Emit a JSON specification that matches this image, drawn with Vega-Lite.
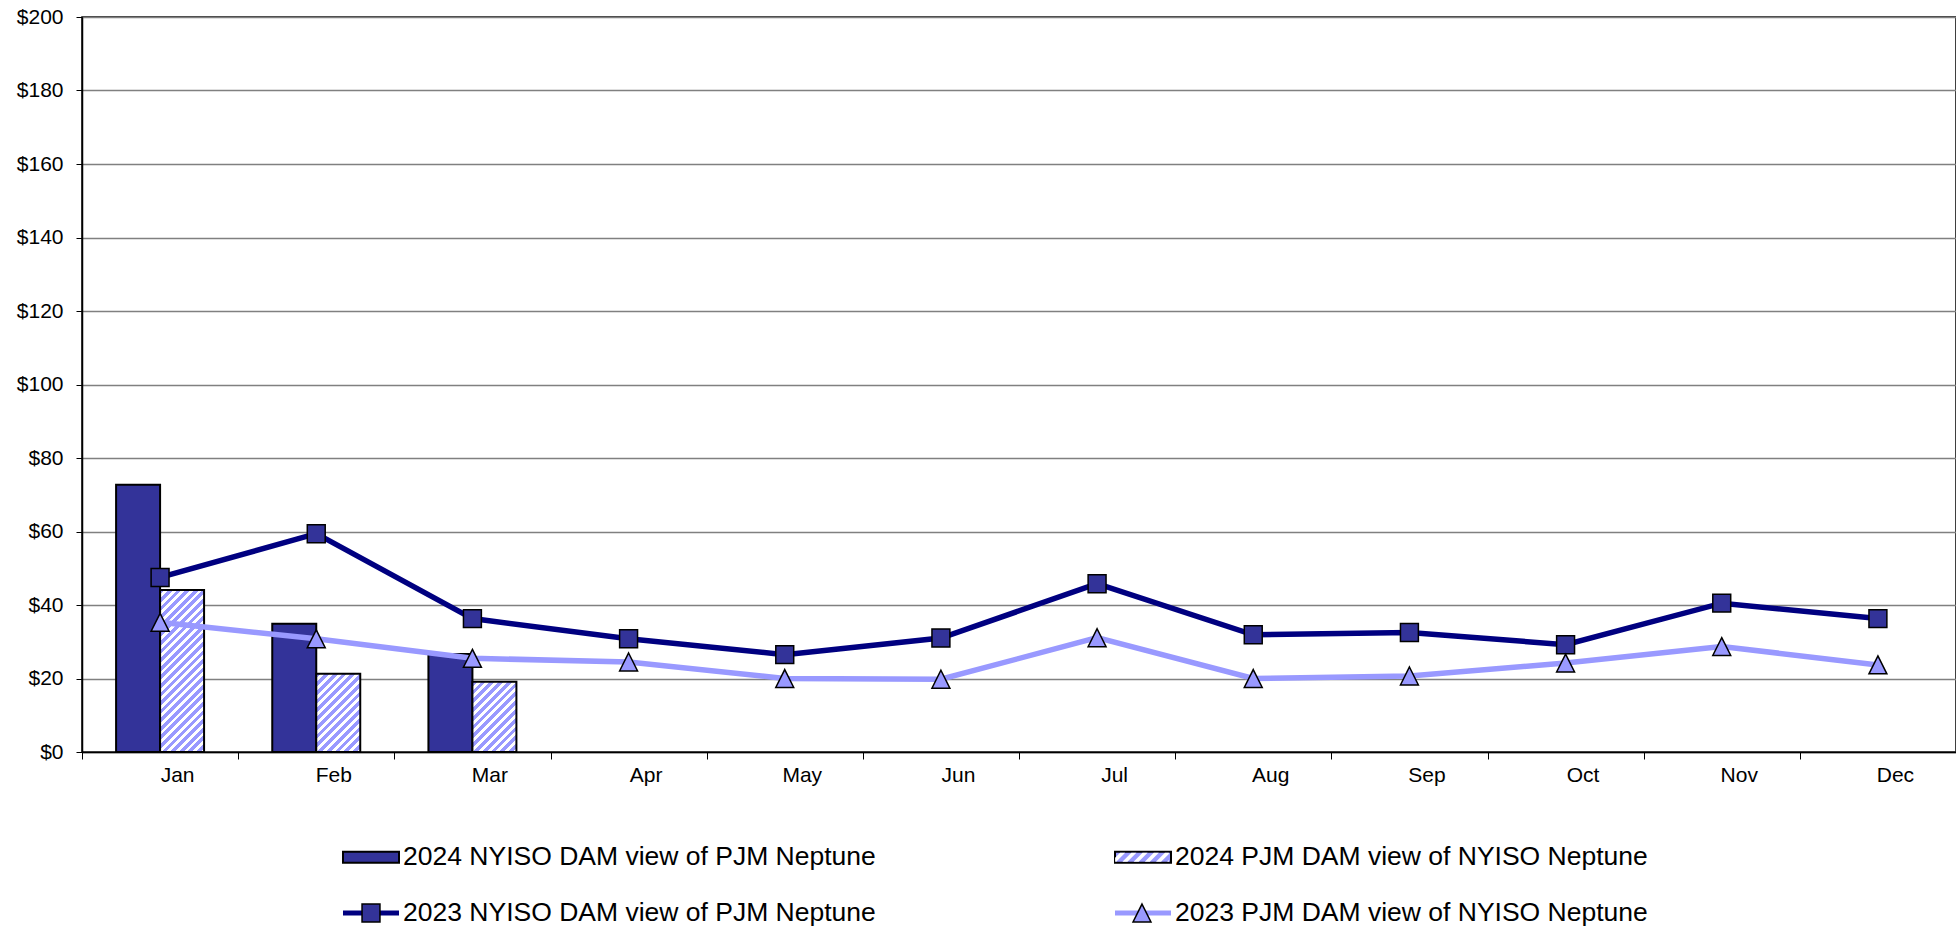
{
  "$schema": "https://vega.github.io/schema/vega-lite/v6.json",
  "width": 1874,
  "height": 735,
  "autosize": {"type": "none"},
  "padding": {"left": 82, "top": 17, "right": 0, "bottom": 195},
  "background": "white",
  "config": {
    "view": {"stroke": "black", "strokeWidth": 1.5},
    "font": "Liberation Sans",
    "legend": {"orient": "none", "legendX": 260, "legendY": 811, "title": null, "direction": "horizontal", "columns": 2, "columnPadding": 235, "rowPadding": 13, "labelFont": "Liberation Sans", "labelFontSize": 26.5, "labelColor": "black", "labelLimit": 1000, "symbolSize": 3136, "symbolOpacity": 1, "labelOffset": 3, "padding": 0, "symbolOffset": 0}
  },
  "datasets": {
    "bars": [
      {"month": "Jan", "series": "2024 NYISO DAM view of PJM Neptune", "value": 72.7},
      {"month": "Feb", "series": "2024 NYISO DAM view of PJM Neptune", "value": 34.9},
      {"month": "Mar", "series": "2024 NYISO DAM view of PJM Neptune", "value": 26.7},
      {"month": "Jan", "series": "2024 PJM DAM view of NYISO Neptune", "value": 44.1},
      {"month": "Feb", "series": "2024 PJM DAM view of NYISO Neptune", "value": 21.3},
      {"month": "Mar", "series": "2024 PJM DAM view of NYISO Neptune", "value": 19.1}
    ],
    "lines": [
      {"month": "Jan", "series": "2023 NYISO DAM view of PJM Neptune", "value": 47.5},
      {"month": "Feb", "series": "2023 NYISO DAM view of PJM Neptune", "value": 59.4},
      {"month": "Mar", "series": "2023 NYISO DAM view of PJM Neptune", "value": 36.3},
      {"month": "Apr", "series": "2023 NYISO DAM view of PJM Neptune", "value": 30.8},
      {"month": "May", "series": "2023 NYISO DAM view of PJM Neptune", "value": 26.5},
      {"month": "Jun", "series": "2023 NYISO DAM view of PJM Neptune", "value": 31.0},
      {"month": "Jul", "series": "2023 NYISO DAM view of PJM Neptune", "value": 45.8},
      {"month": "Aug", "series": "2023 NYISO DAM view of PJM Neptune", "value": 31.9},
      {"month": "Sep", "series": "2023 NYISO DAM view of PJM Neptune", "value": 32.5},
      {"month": "Oct", "series": "2023 NYISO DAM view of PJM Neptune", "value": 29.2},
      {"month": "Nov", "series": "2023 NYISO DAM view of PJM Neptune", "value": 40.5},
      {"month": "Dec", "series": "2023 NYISO DAM view of PJM Neptune", "value": 36.3},
      {"month": "Jan", "series": "2023 PJM DAM view of NYISO Neptune", "value": 35.3},
      {"month": "Feb", "series": "2023 PJM DAM view of NYISO Neptune", "value": 30.8},
      {"month": "Mar", "series": "2023 PJM DAM view of NYISO Neptune", "value": 25.5},
      {"month": "Apr", "series": "2023 PJM DAM view of NYISO Neptune", "value": 24.5},
      {"month": "May", "series": "2023 PJM DAM view of NYISO Neptune", "value": 20.0},
      {"month": "Jun", "series": "2023 PJM DAM view of NYISO Neptune", "value": 19.8},
      {"month": "Jul", "series": "2023 PJM DAM view of NYISO Neptune", "value": 31.1},
      {"month": "Aug", "series": "2023 PJM DAM view of NYISO Neptune", "value": 20.0},
      {"month": "Sep", "series": "2023 PJM DAM view of NYISO Neptune", "value": 20.7},
      {"month": "Oct", "series": "2023 PJM DAM view of NYISO Neptune", "value": 24.2},
      {"month": "Nov", "series": "2023 PJM DAM view of NYISO Neptune", "value": 28.7},
      {"month": "Dec", "series": "2023 PJM DAM view of NYISO Neptune", "value": 23.7}
    ]
  },
  "encoding": {
    "x": {
      "field": "month", "type": "nominal",
      "sort": ["Jan","Feb","Mar","Apr","May","Jun","Jul","Aug","Sep","Oct","Nov","Dec"],
      "scale": {"paddingInner": 0, "paddingOuter": 0},
      "axis": {"title": null, "tickBand": "extent", "labelOffset": 17, "labelAngle": 0, "labelFontSize": 21, "labelColor": "black", "labelFont": "Liberation Sans", "labelPadding": 5, "tickSize": 7, "tickColor": "black", "domainColor": "black", "domainWidth": 1.5, "grid": false}
    },
    "y": {
      "field": "value", "type": "quantitative",
      "scale": {"domain": [0, 200], "nice": false},
      "axis": {"title": null, "values": [0,20,40,60,80,100,120,140,160,180,200], "labelExpr": "'$' + datum.value", "labelFontSize": 21, "labelColor": "black", "labelFont": "Liberation Sans", "labelPadding": 13, "tickSize": 6, "tickColor": "black", "domainColor": "black", "domainWidth": 1.5, "grid": true, "gridColor": "#808080", "gridWidth": 1.3}
    }
  },
  "resolve": {"scale": {"shape": "independent", "fill": "independent", "stroke": "independent"}},
  "layer": [
    {
      "data": {"name": "bars"},
      "mark": {"type": "bar", "stroke": "black", "strokeWidth": 2, "opacity": 1},
      "encoding": {
        "xOffset": {"field": "series", "type": "nominal", "sort": ["2024 NYISO DAM view of PJM Neptune", "2024 PJM DAM view of NYISO Neptune"], "scale": {"paddingInner": 0, "paddingOuter": 0.775}},
        "fill": {
          "condition": [
            {"test": "datum.series === '2024 PJM DAM view of NYISO Neptune' && datum.month === 'Jan'", "value": {"gradient": "linear", "x1": 0, "y1": 0, "x2": 0.3215, "y2": 1.1842, "stops": [
              {"offset": 0, "color": "#99f"}, {"offset": 0.0229, "color": "#99f"}, {"offset": 0.0229, "color": "#fff"}, {"offset": 0.0417, "color": "#fff"},
              {"offset": 0.0417, "color": "#99f"}, {"offset": 0.0646, "color": "#99f"}, {"offset": 0.0646, "color": "#fff"}, {"offset": 0.0833, "color": "#fff"},
              {"offset": 0.0833, "color": "#99f"}, {"offset": 0.1062, "color": "#99f"}, {"offset": 0.1062, "color": "#fff"}, {"offset": 0.125, "color": "#fff"},
              {"offset": 0.125, "color": "#99f"}, {"offset": 0.1479, "color": "#99f"}, {"offset": 0.1479, "color": "#fff"}, {"offset": 0.1667, "color": "#fff"},
              {"offset": 0.1667, "color": "#99f"}, {"offset": 0.1896, "color": "#99f"}, {"offset": 0.1896, "color": "#fff"}, {"offset": 0.2083, "color": "#fff"},
              {"offset": 0.2083, "color": "#99f"}, {"offset": 0.2312, "color": "#99f"}, {"offset": 0.2312, "color": "#fff"}, {"offset": 0.25, "color": "#fff"},
              {"offset": 0.25, "color": "#99f"}, {"offset": 0.2729, "color": "#99f"}, {"offset": 0.2729, "color": "#fff"}, {"offset": 0.2917, "color": "#fff"},
              {"offset": 0.2917, "color": "#99f"}, {"offset": 0.3146, "color": "#99f"}, {"offset": 0.3146, "color": "#fff"}, {"offset": 0.3333, "color": "#fff"},
              {"offset": 0.3333, "color": "#99f"}, {"offset": 0.3562, "color": "#99f"}, {"offset": 0.3562, "color": "#fff"}, {"offset": 0.375, "color": "#fff"},
              {"offset": 0.375, "color": "#99f"}, {"offset": 0.3979, "color": "#99f"}, {"offset": 0.3979, "color": "#fff"}, {"offset": 0.4167, "color": "#fff"},
              {"offset": 0.4167, "color": "#99f"}, {"offset": 0.4396, "color": "#99f"}, {"offset": 0.4396, "color": "#fff"}, {"offset": 0.4583, "color": "#fff"},
              {"offset": 0.4583, "color": "#99f"}, {"offset": 0.4812, "color": "#99f"}, {"offset": 0.4812, "color": "#fff"}, {"offset": 0.5, "color": "#fff"},
              {"offset": 0.5, "color": "#99f"}, {"offset": 0.5229, "color": "#99f"}, {"offset": 0.5229, "color": "#fff"}, {"offset": 0.5417, "color": "#fff"},
              {"offset": 0.5417, "color": "#99f"}, {"offset": 0.5646, "color": "#99f"}, {"offset": 0.5646, "color": "#fff"}, {"offset": 0.5833, "color": "#fff"},
              {"offset": 0.5833, "color": "#99f"}, {"offset": 0.6062, "color": "#99f"}, {"offset": 0.6062, "color": "#fff"}, {"offset": 0.625, "color": "#fff"},
              {"offset": 0.625, "color": "#99f"}, {"offset": 0.6479, "color": "#99f"}, {"offset": 0.6479, "color": "#fff"}, {"offset": 0.6667, "color": "#fff"},
              {"offset": 0.6667, "color": "#99f"}, {"offset": 0.6896, "color": "#99f"}, {"offset": 0.6896, "color": "#fff"}, {"offset": 0.7083, "color": "#fff"},
              {"offset": 0.7083, "color": "#99f"}, {"offset": 0.7312, "color": "#99f"}, {"offset": 0.7312, "color": "#fff"}, {"offset": 0.75, "color": "#fff"},
              {"offset": 0.75, "color": "#99f"}, {"offset": 0.7729, "color": "#99f"}, {"offset": 0.7729, "color": "#fff"}, {"offset": 0.7917, "color": "#fff"},
              {"offset": 0.7917, "color": "#99f"}, {"offset": 0.8146, "color": "#99f"}, {"offset": 0.8146, "color": "#fff"}, {"offset": 0.8333, "color": "#fff"},
              {"offset": 0.8333, "color": "#99f"}, {"offset": 0.8562, "color": "#99f"}, {"offset": 0.8562, "color": "#fff"}, {"offset": 0.875, "color": "#fff"},
              {"offset": 0.875, "color": "#99f"}, {"offset": 0.8979, "color": "#99f"}, {"offset": 0.8979, "color": "#fff"}, {"offset": 0.9167, "color": "#fff"},
              {"offset": 0.9167, "color": "#99f"}, {"offset": 0.9396, "color": "#99f"}, {"offset": 0.9396, "color": "#fff"}, {"offset": 0.9583, "color": "#fff"},
              {"offset": 0.9583, "color": "#99f"}, {"offset": 0.9812, "color": "#99f"}, {"offset": 0.9812, "color": "#fff"}, {"offset": 1, "color": "#fff"}
            ]}},
            {"test": "datum.series === '2024 PJM DAM view of NYISO Neptune' && datum.month === 'Feb'", "value": {"gradient": "linear", "x1": 0, "y1": 0, "x2": 0.6672, "y2": 1.187, "stops": [
              {"offset": 0, "color": "#99f"}, {"offset": 0.0393, "color": "#99f"}, {"offset": 0.0393, "color": "#fff"}, {"offset": 0.0714, "color": "#fff"},
              {"offset": 0.0714, "color": "#99f"}, {"offset": 0.1107, "color": "#99f"}, {"offset": 0.1107, "color": "#fff"}, {"offset": 0.1429, "color": "#fff"},
              {"offset": 0.1429, "color": "#99f"}, {"offset": 0.1821, "color": "#99f"}, {"offset": 0.1821, "color": "#fff"}, {"offset": 0.2143, "color": "#fff"},
              {"offset": 0.2143, "color": "#99f"}, {"offset": 0.2536, "color": "#99f"}, {"offset": 0.2536, "color": "#fff"}, {"offset": 0.2857, "color": "#fff"},
              {"offset": 0.2857, "color": "#99f"}, {"offset": 0.325, "color": "#99f"}, {"offset": 0.325, "color": "#fff"}, {"offset": 0.3571, "color": "#fff"},
              {"offset": 0.3571, "color": "#99f"}, {"offset": 0.3964, "color": "#99f"}, {"offset": 0.3964, "color": "#fff"}, {"offset": 0.4286, "color": "#fff"},
              {"offset": 0.4286, "color": "#99f"}, {"offset": 0.4679, "color": "#99f"}, {"offset": 0.4679, "color": "#fff"}, {"offset": 0.5, "color": "#fff"},
              {"offset": 0.5, "color": "#99f"}, {"offset": 0.5393, "color": "#99f"}, {"offset": 0.5393, "color": "#fff"}, {"offset": 0.5714, "color": "#fff"},
              {"offset": 0.5714, "color": "#99f"}, {"offset": 0.6107, "color": "#99f"}, {"offset": 0.6107, "color": "#fff"}, {"offset": 0.6429, "color": "#fff"},
              {"offset": 0.6429, "color": "#99f"}, {"offset": 0.6821, "color": "#99f"}, {"offset": 0.6821, "color": "#fff"}, {"offset": 0.7143, "color": "#fff"},
              {"offset": 0.7143, "color": "#99f"}, {"offset": 0.7536, "color": "#99f"}, {"offset": 0.7536, "color": "#fff"}, {"offset": 0.7857, "color": "#fff"},
              {"offset": 0.7857, "color": "#99f"}, {"offset": 0.825, "color": "#99f"}, {"offset": 0.825, "color": "#fff"}, {"offset": 0.8571, "color": "#fff"},
              {"offset": 0.8571, "color": "#99f"}, {"offset": 0.8964, "color": "#99f"}, {"offset": 0.8964, "color": "#fff"}, {"offset": 0.9286, "color": "#fff"},
              {"offset": 0.9286, "color": "#99f"}, {"offset": 0.9679, "color": "#99f"}, {"offset": 0.9679, "color": "#fff"}, {"offset": 1, "color": "#fff"}
            ]}},
            {"test": "datum.series === '2024 PJM DAM view of NYISO Neptune' && datum.month === 'Mar'", "value": {"gradient": "linear", "x1": 0, "y1": 0, "x2": 0.7322, "y2": 1.1679, "stops": [
              {"offset": 0, "color": "#99f"}, {"offset": 0.0423, "color": "#99f"}, {"offset": 0.0423, "color": "#fff"}, {"offset": 0.0769, "color": "#fff"},
              {"offset": 0.0769, "color": "#99f"}, {"offset": 0.1192, "color": "#99f"}, {"offset": 0.1192, "color": "#fff"}, {"offset": 0.1538, "color": "#fff"},
              {"offset": 0.1538, "color": "#99f"}, {"offset": 0.1961, "color": "#99f"}, {"offset": 0.1961, "color": "#fff"}, {"offset": 0.2308, "color": "#fff"},
              {"offset": 0.2308, "color": "#99f"}, {"offset": 0.2731, "color": "#99f"}, {"offset": 0.2731, "color": "#fff"}, {"offset": 0.3077, "color": "#fff"},
              {"offset": 0.3077, "color": "#99f"}, {"offset": 0.35, "color": "#99f"}, {"offset": 0.35, "color": "#fff"}, {"offset": 0.3846, "color": "#fff"},
              {"offset": 0.3846, "color": "#99f"}, {"offset": 0.4269, "color": "#99f"}, {"offset": 0.4269, "color": "#fff"}, {"offset": 0.4615, "color": "#fff"},
              {"offset": 0.4615, "color": "#99f"}, {"offset": 0.5038, "color": "#99f"}, {"offset": 0.5038, "color": "#fff"}, {"offset": 0.5385, "color": "#fff"},
              {"offset": 0.5385, "color": "#99f"}, {"offset": 0.5808, "color": "#99f"}, {"offset": 0.5808, "color": "#fff"}, {"offset": 0.6154, "color": "#fff"},
              {"offset": 0.6154, "color": "#99f"}, {"offset": 0.6577, "color": "#99f"}, {"offset": 0.6577, "color": "#fff"}, {"offset": 0.6923, "color": "#fff"},
              {"offset": 0.6923, "color": "#99f"}, {"offset": 0.7346, "color": "#99f"}, {"offset": 0.7346, "color": "#fff"}, {"offset": 0.7692, "color": "#fff"},
              {"offset": 0.7692, "color": "#99f"}, {"offset": 0.8115, "color": "#99f"}, {"offset": 0.8115, "color": "#fff"}, {"offset": 0.8462, "color": "#fff"},
              {"offset": 0.8462, "color": "#99f"}, {"offset": 0.8885, "color": "#99f"}, {"offset": 0.8885, "color": "#fff"}, {"offset": 0.9231, "color": "#fff"},
              {"offset": 0.9231, "color": "#99f"}, {"offset": 0.9654, "color": "#99f"}, {"offset": 0.9654, "color": "#fff"}, {"offset": 1, "color": "#fff"}
            ]}}
          ],
          "value": "#333399"
        }
      }
    },
    {
      "data": {"name": "lines"},
      "mark": {"type": "line", "strokeWidth": 5.5, "opacity": 1},
      "encoding": {
        "color": {
          "field": "series", "type": "nominal",
          "scale": {"domain": ["2023 NYISO DAM view of PJM Neptune", "2023 PJM DAM view of NYISO Neptune"], "range": ["#000080", "#9999FF"]},
          "legend": null
        }
      }
    },
    {
      "data": {"name": "lines"},
      "mark": {"type": "point", "filled": true, "opacity": 0, "size": 3136, "strokeWidth": 2},
      "encoding": {
        "shape": {
          "field": "series", "type": "nominal",
          "scale": {
            "domain": ["2024 NYISO DAM view of PJM Neptune", "2024 PJM DAM view of NYISO Neptune", "2023 NYISO DAM view of PJM Neptune", "2023 PJM DAM view of NYISO Neptune"],
            "range": ["M-1,-0.2H1V0.2H-1Z", "M-1,-0.2H1V0.2H-1Z", "M-1,-0.09H1V0.09H-1ZM0,-0.32L0,-0.32M0,0.32L0,0.32", "M-1,-0.09H1V0.09H-1ZM0,-0.32L0,-0.32M0,0.32L0,0.32"]
          },
          "legend": {"labelOpacity": 1, "symbolStrokeWidth": 2}
        },
        "fill": {
          "field": "series", "type": "nominal",
          "scale": {
            "domain": ["2024 NYISO DAM view of PJM Neptune", "2024 PJM DAM view of NYISO Neptune", "2023 NYISO DAM view of PJM Neptune", "2023 PJM DAM view of NYISO Neptune"],
            "range": ["#333399", "#9999FF", "#000080", "#9999FF"]
          },
          "legend": {"labelOpacity": 1, "symbolStrokeWidth": 2}
        },
        "stroke": {
          "field": "series", "type": "nominal",
          "scale": {
            "domain": ["2024 NYISO DAM view of PJM Neptune", "2024 PJM DAM view of NYISO Neptune", "2023 NYISO DAM view of PJM Neptune", "2023 PJM DAM view of NYISO Neptune"],
            "range": ["black", "black", "transparent", "transparent"]
          },
          "legend": {"labelOpacity": 1, "symbolStrokeWidth": 2}
        }
      }
    },
    {
      "data": {"name": "lines"},
      "mark": {"type": "point", "filled": true, "opacity": 1, "size": 3136, "strokeWidth": 1.5},
      "encoding": {
        "shape": {
          "field": "series", "type": "nominal",
          "scale": {
            "domain": ["2024 NYISO DAM view of PJM Neptune", "2024 PJM DAM view of NYISO Neptune", "2023 NYISO DAM view of PJM Neptune", "2023 PJM DAM view of NYISO Neptune", " "],
            "range": ["M-1,-0.2L-1,-0.2M1,0.2L1,0.2", "M-1,-0.2L-1,-0.2M1,0.2L1,0.2M-0.96,0.16L-0.92,0.16L-0.6,-0.16L-0.78,-0.16L-0.96,0.02ZM-0.7,0.16L-0.52,0.16L-0.2,-0.16L-0.38,-0.16ZM-0.3,0.16L-0.12,0.16L0.2,-0.16L0.02,-0.16ZM0.1,0.16L0.28,0.16L0.6,-0.16L0.42,-0.16ZM0.5,0.16L0.68,0.16L0.96,-0.12L0.96,-0.16L0.82,-0.16ZM0.9,0.16L0.96,0.16L0.96,0.1Z", "M-1,0L-1,0M1,0L1,0M-0.32,-0.32H0.32V0.32H-0.32Z", "M-1,0L-1,0M1,0L1,0M0,-0.32L0.32,0.32H-0.32Z", "M-1,0L-1,0M1,0L1,0"]
          },
          "legend": {"labelOpacity": 0, "symbolStrokeWidth": 1.5}
        },
        "fill": {
          "field": "series", "type": "nominal",
          "scale": {
            "domain": ["2024 NYISO DAM view of PJM Neptune", "2024 PJM DAM view of NYISO Neptune", "2023 NYISO DAM view of PJM Neptune", "2023 PJM DAM view of NYISO Neptune", " "],
            "range": ["transparent", "white", "#333399", "#9999FF", "transparent"]
          },
          "legend": {"labelOpacity": 0, "symbolStrokeWidth": 1.5}
        },
        "stroke": {
          "field": "series", "type": "nominal",
          "scale": {
            "domain": ["2024 NYISO DAM view of PJM Neptune", "2024 PJM DAM view of NYISO Neptune", "2023 NYISO DAM view of PJM Neptune", "2023 PJM DAM view of NYISO Neptune", " "],
            "range": ["transparent", "transparent", "black", "black", "transparent"]
          },
          "legend": {"labelOpacity": 0, "symbolStrokeWidth": 1.5}
        }
      }
    }
  ]
}
